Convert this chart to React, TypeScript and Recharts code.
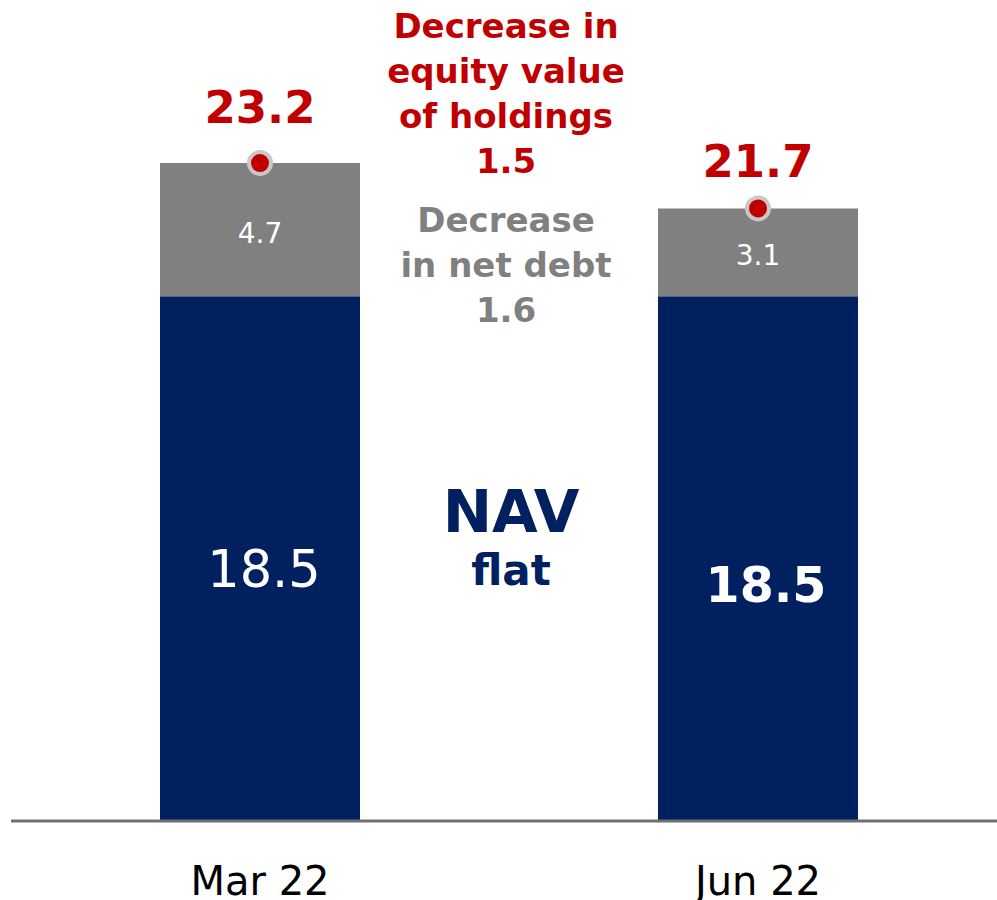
import React from "react";
import { ComposedChart, Bar, Line, XAxis, YAxis, LabelList, Customized } from "recharts";

const categories = ["Mar 22", "Jun 22"];
const navValues = [18.5, 18.5];
const netDebtValues = [4.7, 3.1];
const totals = [23.2, 21.7];

const redLines = ["Decrease in", "equity value", "of holdings", "1.5"];
const grayLines = ["Decrease", "in net debt", "1.6"];
const navTitle = "NAV";
const navSub = "flat";

const data = categories.map((c, i) => ({
  name: c,
  nav: navValues[i],
  debt: netDebtValues[i],
  top: navValues[i] + netDebtValues[i],
  total: totals[i],
}));

const FONT = "'DejaVu Sans', Verdana, sans-serif";
const NAVY = "#002060";
const RED = "#C00000";
const GRAY = "#808080";

const CHART_W = 1007;
const MARGIN = { top: 112, right: 0, bottom: 0, left: 11 };

const NavLabel = (props: any) => {
  const { x, y, width, height, value, index } = props;
  const bold = index === 1;
  return (
    <text
      x={x + width / 2 + (bold ? 8 : 4)}
      y={y + height / 2 + (bold ? 43 : 28)}
      textAnchor="middle"
      fill="#fff"
      fontFamily={FONT}
      fontSize={bold ? 49 : 51}
      fontWeight={bold ? 700 : 400}
    >
      {Number(value).toFixed(1)}
    </text>
  );
};

const DebtLabel = (props: any) => {
  const { x, y, width, height, value } = props;
  return (
    <text
      x={x + width / 2}
      y={y + height / 2 + 13}
      textAnchor="middle"
      fill="#fff"
      fontFamily={FONT}
      fontSize={28}
    >
      {Number(value).toFixed(1)}
    </text>
  );
};

const TotalLabel = (props: any) => {
  const { x, y, value, index } = props;
  return (
    <text
      x={x}
      y={y - (index === 0 ? 40 : 31)}
      textAnchor="middle"
      fill={RED}
      fontFamily={FONT}
      fontSize={45}
      fontWeight={700}
    >
      {Number(value).toFixed(1)}
    </text>
  );
};

const Tick = (props: any) => {
  const { x, y, payload } = props;
  return (
    <text x={x} y={y + 66} textAnchor="middle" fill="#000" fontFamily={FONT} fontSize={40}>
      {payload.value}
    </text>
  );
};

const Annotations = () => {
  const plotW = CHART_W - MARGIN.left - MARGIN.right;
  const cx = MARGIN.left + plotW / 2 - 3;
  return (
    <g fontFamily={FONT} fontWeight={700} textAnchor="middle">
      {redLines.map((t, i) => (
        <text key={"r" + i} x={cx} y={38 + i * 45} fill={RED} fontSize={34}>
          {t}
        </text>
      ))}
      {grayLines.map((t, i) => (
        <text key={"g" + i} x={cx} y={232 + i * 45} fill={GRAY} fontSize={34}>
          {t}
        </text>
      ))}
      <text x={cx + 5} y={532} fill={NAVY} fontSize={59}>
        {navTitle}
      </text>
      <text x={cx + 5} y={585} fill={NAVY} fontSize={42}>
        {navSub}
      </text>
    </g>
  );
};

export default function App() {
  return (
    <div style={{ position: "absolute", left: 0, top: 0, width: 997, height: 900, overflow: "hidden", background: "#fff" }}>
      <ComposedChart width={CHART_W} height={900} data={data} margin={MARGIN}>
        <XAxis
          dataKey="name"
          axisLine={{ stroke: "#707070", strokeWidth: 3 }}
          tickLine={false}
          tick={<Tick />}
          height={79}
        />
        <YAxis hide domain={[0, 25]} />
        <Bar dataKey="nav" stackId="a" fill={NAVY} barSize={200} isAnimationActive={false}>
          <LabelList dataKey="nav" content={<NavLabel />} />
        </Bar>
        <Bar dataKey="debt" stackId="a" fill={GRAY} barSize={200} isAnimationActive={false}>
          <LabelList dataKey="debt" content={<DebtLabel />} />
        </Bar>
        <Line
          dataKey="top"
          stroke="none"
          isAnimationActive={false}
          dot={{ r: 11, fill: RED, stroke: "#C8C8C8", strokeWidth: 4 }}
          activeDot={false}
        >
          <LabelList dataKey="total" content={<TotalLabel />} />
        </Line>
        <Customized component={<Annotations />} />
      </ComposedChart>
    </div>
  );
}
